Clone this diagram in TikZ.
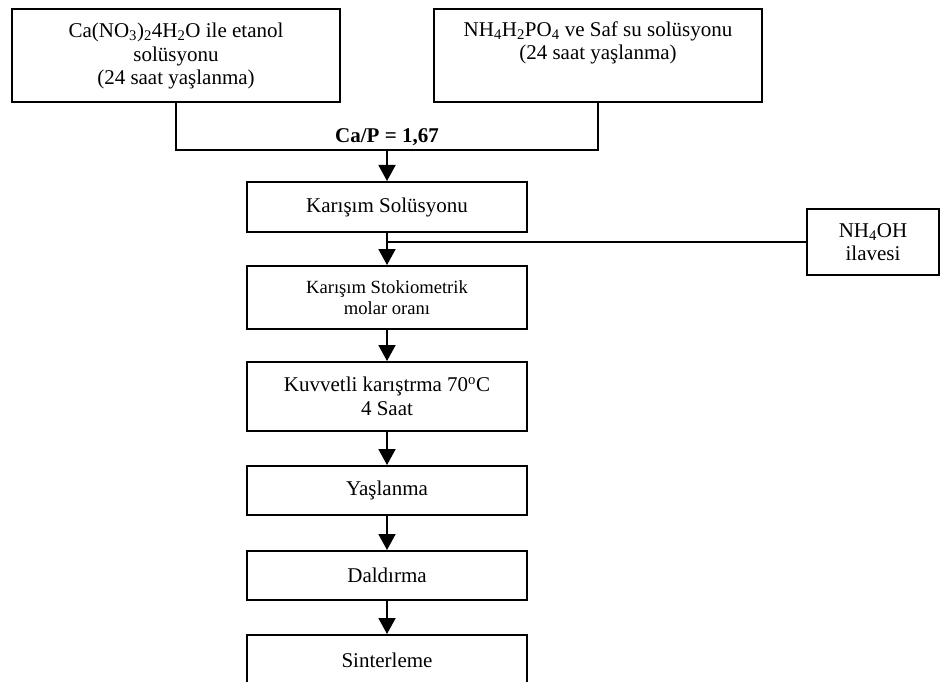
\documentclass[tikz,border=0pt]{standalone}
\usepackage{fontspec}
\setmainfont{Liberation Serif}
\usetikzlibrary{arrows.meta}
\begin{document}
\begin{tikzpicture}[x=1pt,y=-1pt,
  box/.style={draw,line width=2pt,align=center,inner sep=0pt,
    font=\fontsize{21}{23.5}\selectfont},
  smallbox/.style={box,font=\fontsize{18.6}{21}\selectfont},
  arr/.style={line width=1.9pt,-{Triangle[length=16pt,width=17pt]}},
  ln/.style={line width=1.9pt}]
\useasboundingbox (0,0) rectangle (940,682);

\node[box,minimum width=328pt,minimum height=93pt] (b1) at (176,56)
  {Ca(NO\textsubscript{3})\textsubscript{2}4H\textsubscript{2}O ile etanol\\solüsyonu\\(24 saat yaşlanma)};
\node[box,minimum width=328pt,minimum height=93pt] (b2) at (598,56)
  {NH\textsubscript{4}H\textsubscript{2}PO\textsubscript{4} ve Saf su solüsyonu\\(24 saat yaşlanma)\\\strut};

\coordinate (j1) at (387,150);
\node[anchor=base,inner sep=0pt,font=\bfseries\fontsize{21}{24}\selectfont] (cap) at (387,143) {Ca/P = 1,67};

\node[box,minimum width=280pt,minimum height=50pt] (b3) at (387,207) {Karışım Solüsyonu};
\node[box,minimum width=132pt,minimum height=66pt] (nh) at (873,242) {NH\textsubscript{4}OH\\ilavesi};
\node[smallbox,minimum width=280pt,minimum height=63pt] (b4) at (387,297.5) {Karışım Stokiometrik\\molar oranı};
\node[box,minimum width=280pt,minimum height=69pt] (b5) at (387,396.5) {Kuvvetli karıştrma 70\textsuperscript{o}C\\4 Saat};
\node[box,minimum width=280pt,minimum height=49pt] (b6) at (387,490.5) {Yaşlanma};
\node[box,minimum width=280pt,minimum height=49pt] (b7) at (387,575.5) {Daldırma};
\node[box,minimum width=280pt,minimum height=50pt] (b8) at (387,660) {Sinterleme};

\draw[ln] (b1.south) |- (j1) -| (b2.south);
\draw[arr] (j1) -- (b3.north);
\draw[arr] (b3.south) -- (b4.north);
\draw[ln] (nh.west) -- (b3.south |- nh.west);
\draw[arr] (b4.south) -- (b5.north);
\draw[arr] (b5.south) -- (b6.north);
\draw[arr] (b6.south) -- (b7.north);
\draw[arr] (b7.south) -- (b8.north);
\end{tikzpicture}
\end{document}
